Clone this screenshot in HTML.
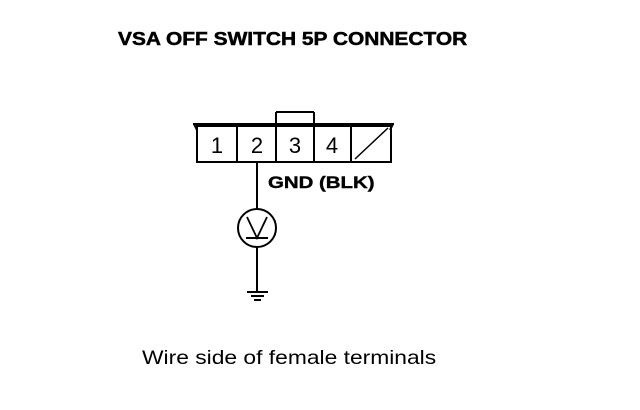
<!DOCTYPE html>
<html><head><style>
body{margin:0;background:#fff;width:640px;height:410px;overflow:hidden;position:relative;font-family:"Liberation Sans",Arial,sans-serif}
.t{position:absolute;white-space:nowrap;color:#000;transform-origin:0 0}
</style></head><body>
<div class="t" style="left:118px;top:28px;font-size:18.5px;font-weight:bold;transform:scaleX(1.13);-webkit-text-stroke:0.5px #000">VSA OFF SWITCH 5P CONNECTOR</div>
<svg width="640" height="410" style="position:absolute;left:0;top:0" stroke="#000" fill="none" stroke-width="2">
<line x1="193" y1="124" x2="394" y2="124"/>
<line x1="194" y1="124" x2="197" y2="130"/>
<line x1="393" y1="124" x2="390" y2="130"/>
<rect x="197" y="126" width="194" height="36"/>
<line x1="237" y1="126" x2="237" y2="162"/>
<line x1="276" y1="112" x2="276" y2="162"/>
<line x1="314" y1="112" x2="314" y2="162"/>
<line x1="351" y1="126" x2="351" y2="162"/>
<line x1="276" y1="112" x2="314" y2="112"/>
<line x1="355" y1="159" x2="388" y2="128" stroke-width="1.5"/>
<line x1="257" y1="162" x2="257" y2="209"/>
<circle cx="257" cy="228" r="19"/>
<polyline points="247,217 257,238 267,217" stroke-width="1.8"/>
<line x1="246" y1="238" x2="268" y2="238"/>
<line x1="257" y1="247" x2="257" y2="292"/>
<line x1="247" y1="292" x2="268" y2="292"/>
<line x1="251" y1="296" x2="264" y2="296"/>
<line x1="254" y1="300" x2="261" y2="300"/>
<g fill="#000" stroke="none" font-family="Liberation Sans, Arial, sans-serif" font-size="22" text-anchor="middle">
<text x="217" y="153">1</text><text x="257" y="153">2</text><text x="295" y="153">3</text><text x="332" y="153">4</text>
</g>
</svg>
<div class="t" style="left:268px;top:173px;font-size:17px;font-weight:bold;transform:scaleX(1.2);-webkit-text-stroke:0.4px #000">GND (BLK)</div>
<div class="t" style="left:142px;top:347px;font-size:19.5px;transform:scaleX(1.17)">Wire side of female terminals</div>
</body></html>
